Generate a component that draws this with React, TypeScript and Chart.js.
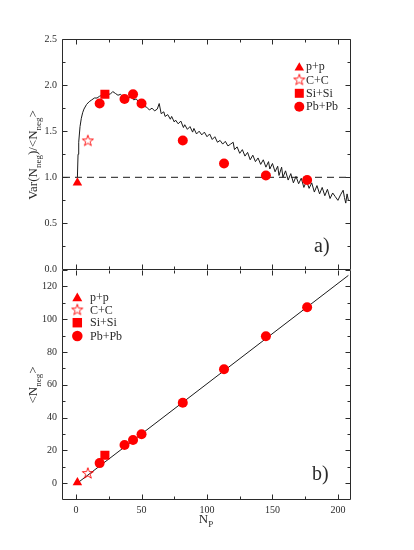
import React, { useEffect, useRef } from 'react';
import { Chart, registerables } from 'chart.js';

Chart.register(...registerables);

const SERIF = '"Liberation Serif", "DejaVu Serif", serif';
const RED = '#ff0000';
const INK = '#2b2b2b';

// ---------- axis ticks ----------
const xMajorTicks = [0, 50, 100, 150, 200];
const xMinorTicks = [25, 75, 125, 175];
const ratioMajorTicks = [0, 0.5, 1.0, 1.5, 2.0, 2.5];
const ratioMinorTicks = [0.25, 0.75, 1.25, 1.75, 2.25];
const meanMajorTicks = [0, 20, 40, 60, 80, 100, 120];
const meanMinorTicks = [10, 30, 50, 70, 90, 110];

// ---------- legend ----------
const legendLabels = ['p+p', 'C+C', 'Si+Si', 'Pb+Pb'];

// ---------- panel a): Var(N_neg)/<N_neg> ----------
const curveNp = [
  1, 1.5, 2, 3, 4, 5, 6, 8, 10, 12, 14, 16, 18, 20, 22, 24, 26, 28, 30, 32,
  34, 36, 38, 40, 42, 44, 46, 48, 50, 52, 54, 56, 58, 60, 62, 63.5, 65, 67, 68, 70,
  72, 73, 75, 76, 78, 80, 82, 83, 85, 87, 89, 90, 92, 94, 96, 98, 100, 102, 104, 106,
  108, 110, 112, 114, 116, 118, 120, 121, 123, 125, 127, 129, 131, 133, 135, 137, 139, 141, 143, 145,
  147, 148, 150, 152, 154, 155, 157, 158, 160, 162, 164, 166, 168, 170, 172, 174, 176, 178, 180, 182,
  184, 186, 188, 190, 192, 194, 196, 198, 200, 202, 204, 205, 206, 207, 208,
];
const curveRatio = [
  1.00, 1.25, 1.38, 1.55, 1.64, 1.70, 1.74, 1.79, 1.82, 1.84, 1.86, 1.86, 1.88, 1.89, 1.88, 1.91, 1.90, 1.93, 1.91, 1.89,
  1.90, 1.87, 1.88, 1.86, 1.87, 1.84, 1.85, 1.81, 1.82, 1.77, 1.76, 1.73, 1.75, 1.72, 1.74, 1.80, 1.69, 1.71, 1.66, 1.68,
  1.63, 1.66, 1.60, 1.62, 1.58, 1.61, 1.54, 1.57, 1.52, 1.55, 1.49, 1.53, 1.47, 1.50, 1.46, 1.49, 1.44, 1.47, 1.41, 1.44,
  1.38, 1.40, 1.36, 1.39, 1.34, 1.36, 1.38, 1.30, 1.33, 1.26, 1.30, 1.23, 1.27, 1.19, 1.24, 1.17, 1.21, 1.14, 1.19, 1.11,
  1.17, 1.09, 1.15, 1.06, 1.12, 1.02, 1.11, 1.00, 1.07, 0.97, 1.04, 0.94, 1.01, 0.93, 0.99, 0.89, 0.96, 0.88, 0.94, 0.84,
  0.91, 0.82, 0.89, 0.80, 0.87, 0.77, 0.83, 0.79, 0.75, 0.81, 0.86, 0.78, 0.72, 0.82, 0.75,
];
const refLineNp = [-10, 210];
const refLineRatio = [1, 1];

const ppNp = [1];
const ccNp = [9];
const siNp = [22];
const pbNp = [18, 37, 43.5, 50, 81.5, 113, 145, 176.5];

const ppRatio = [0.94];
const ccRatio = [1.40];
const siRatio = [1.90];
const pbRatio = [1.80, 1.85, 1.90, 1.80, 1.40, 1.15, 1.02, 0.97];

// ---------- panel b): <N_neg> ----------
const fitNp = [1, 208];
const fitMean = [0, 126.7];
const ppMean = [0.4];
const ccMean = [6.2];
const siMean = [17];
const pbMean = [12.2, 23.3, 26.3, 29.8, 49, 69.5, 89.6, 107.3];

type Seg = { t: string; sub?: boolean };

const pts = (xs: number[], ys: number[]) => xs.map((x, i) => ({ x, y: ys[i] }));

function starPath(g: CanvasRenderingContext2D, cx: number, cy: number, R: number, r: number) {
  g.beginPath();
  for (let i = 0; i < 10; i++) {
    const rad = (Math.PI / 5) * i;
    const rr = i % 2 === 0 ? R : r;
    const x = cx + Math.sin(rad) * rr;
    const y = cy - Math.cos(rad) * rr;
    if (i === 0) g.moveTo(x, y);
    else g.lineTo(x, y);
  }
  g.closePath();
}

function makeStar(color: string): HTMLCanvasElement {
  const c = document.createElement('canvas');
  c.width = 14;
  c.height = 14;
  const g = c.getContext('2d')!;
  starPath(g, 7, 7.5, 5.8, 2.3);
  g.strokeStyle = color;
  g.lineWidth = 0.9;
  g.stroke();
  return c;
}

function drawMarker(ctx: CanvasRenderingContext2D, kind: number, x: number, y: number, s: number, star: HTMLCanvasElement) {
  ctx.save();
  ctx.fillStyle = RED;
  ctx.strokeStyle = RED;
  if (kind === 0) {
    const r = 5.5 * s;
    ctx.beginPath();
    for (let i = 0; i < 3; i++) {
      const rad = (2 * Math.PI / 3) * i;
      const px = x + Math.sin(rad) * r;
      const py = y + 1 - Math.cos(rad) * r;
      if (i === 0) ctx.moveTo(px, py);
      else ctx.lineTo(px, py);
    }
    ctx.closePath();
    ctx.fill();
  } else if (kind === 1) {
    ctx.drawImage(star, x - 7, y - 7.5);
  } else if (kind === 2) {
    const h = 4.5 * s;
    ctx.fillRect(x - h, y - h, 2 * h, 2 * h);
  } else {
    ctx.beginPath();
    ctx.arc(x, y, 5 * s, 0, Math.PI * 2);
    ctx.fill();
  }
  ctx.restore();
}

function drawRich(ctx: CanvasRenderingContext2D, segs: Seg[], cx: number, cy: number, rot: boolean, size: number, subSize: number) {
  ctx.save();
  ctx.translate(cx, cy);
  if (rot) ctx.rotate(-Math.PI / 2);
  let total = 0;
  const widths = segs.map((s) => {
    ctx.font = `${s.sub ? subSize : size}px ${SERIF}`;
    const w = ctx.measureText(s.t).width;
    total += w;
    return w;
  });
  let x = -total / 2;
  ctx.textAlign = 'left';
  ctx.textBaseline = 'alphabetic';
  ctx.fillStyle = INK;
  const base = size * 0.33;
  segs.forEach((s, i) => {
    ctx.font = `${s.sub ? subSize : size}px ${SERIF}`;
    ctx.fillText(s.t, x, base + (s.sub ? size * 0.3 : 0));
    x += widths[i];
  });
  ctx.restore();
}

type PanelOpts = {
  id: string;
  yMajor: number[];
  yMinor: number[];
  drawTopBorder: boolean;
  yTitle: Seg[];
  yTitleY: number;
  legendX: number;
  legendY: number[];
  legendTextX: number;
  legendScale: number;
  legendFont: number;
  tag: string;
  tagX: number;
  tagY: number;
  xTitleY?: number;
  star: HTMLCanvasElement;
};

function panelPlugin(o: PanelOpts) {
  return {
    id: o.id,
    afterDraw(chart: any) {
      const { ctx, chartArea: a, scales } = chart;
      const xs = scales.x;
      const ys = scales.y;
      const L = Math.round(a.left) - 0.5;
      const R = Math.round(a.right) - 0.5;
      const T = Math.round(a.top) + 0.5;
      const B = Math.round(a.bottom) - 0.5;
      ctx.save();
      ctx.strokeStyle = INK;
      ctx.lineWidth = 1;
      ctx.beginPath();
      ctx.moveTo(L, B); ctx.lineTo(R, B);
      ctx.moveTo(L, T); ctx.lineTo(L, B);
      ctx.moveTo(R, T); ctx.lineTo(R, B);
      if (o.drawTopBorder) { ctx.moveTo(L, T); ctx.lineTo(R, T); }
      const xt = (vals: number[], len: number) => {
        vals.forEach((v) => {
          const p = Math.round(xs.getPixelForValue(v)) + 0.5;
          ctx.moveTo(p, B); ctx.lineTo(p, B - len);
          ctx.moveTo(p, T); ctx.lineTo(p, T + len);
        });
      };
      const yt = (vals: number[], len: number) => {
        vals.forEach((v) => {
          const p = Math.round(ys.getPixelForValue(v)) + 0.5;
          ctx.moveTo(L, p); ctx.lineTo(L + len, p);
          ctx.moveTo(R, p); ctx.lineTo(R - len, p);
        });
      };
      xt(xMajorTicks, 5);
      xt(xMinorTicks, 3);
      yt(o.yMajor, 5);
      yt(o.yMinor, 3);
      ctx.stroke();
      ctx.restore();

      drawRich(ctx, o.yTitle, 33, o.yTitleY, true, 13, 9);

      legendLabels.forEach((lab, i) => {
        drawMarker(ctx, i, o.legendX, o.legendY[i], o.legendScale, o.star);
        ctx.save();
        ctx.font = `${o.legendFont}px ${SERIF}`;
        ctx.fillStyle = INK;
        ctx.textAlign = 'left';
        ctx.textBaseline = 'middle';
        ctx.fillText(lab, o.legendTextX, o.legendY[i] + 0.5);
        ctx.restore();
      });

      ctx.save();
      ctx.font = `20px ${SERIF}`;
      ctx.fillStyle = INK;
      ctx.textAlign = 'left';
      ctx.textBaseline = 'middle';
      ctx.fillText(o.tag, o.tagX, o.tagY);
      ctx.restore();

      if (o.xTitleY !== undefined) {
        drawRich(ctx, [{ t: 'N' }, { t: 'P', sub: true }], 206, o.xTitleY, false, 13, 9);
      }
    },
  };
}

function markerSets(xsArr: number[][], ysArr: number[][], star: HTMLCanvasElement) {
  const styles: any[] = [
    { pointStyle: 'triangle', pointRadius: 5.5 },
    { pointStyle: star, pointRadius: 7 },
    { pointStyle: 'rect', pointRadius: 6.4 },
    { pointStyle: 'circle', pointRadius: 5 },
  ];
  return styles.map((st, i) => ({
    label: legendLabels[i],
    data: pts(xsArr[i], ysArr[i]),
    showLine: false,
    backgroundColor: RED,
    borderColor: RED,
    borderWidth: 0,
    ...st,
  }));
}

const tickFont = { family: SERIF, size: 10 };

export default function App() {
  const topRef = useRef<HTMLCanvasElement>(null);
  const botRef = useRef<HTMLCanvasElement>(null);

  useEffect(() => {
    const star = makeStar(RED);
    const common: any = {
      responsive: false,
      animation: false,
      devicePixelRatio: 1,
      events: [],
      plugins: { legend: { display: false }, tooltip: { enabled: false } },
    };

    const top = new Chart(topRef.current!, {
      type: 'scatter',
      data: {
        datasets: [
          ...markerSets([ppNp, ccNp, siNp, pbNp], [ppRatio, ccRatio, siRatio, pbRatio], star),
          {
            label: 'simulation',
            data: pts(curveNp, curveRatio),
            showLine: true,
            borderColor: '#1a1a1a',
            borderWidth: 1,
            pointRadius: 0,
            tension: 0,
          },
          {
            label: 'poisson',
            data: pts(refLineNp, refLineRatio),
            showLine: true,
            borderColor: '#1a1a1a',
            borderWidth: 1,
            borderDash: [7, 5],
            pointRadius: 0,
          },
        ],
      } as any,
      options: {
        ...common,
        layout: { autoPadding: false, padding: { left: 0, right: 63, top: 39, bottom: 10.5 } },
        scales: {
          x: { type: 'linear', min: -10, max: 210, display: false },
          y: {
            type: 'linear',
            min: 0,
            max: 2.5,
            afterBuildTicks: (s: any) => { s.ticks = ratioMajorTicks.map((v) => ({ value: v })); },
            afterFit: (s: any) => { s.width = 63; s.paddingTop = 0; s.paddingBottom = 0; },
            grid: { display: false, drawTicks: false },
            border: { display: false },
            ticks: {
              callback: (v: any) => Number(v).toFixed(1),
              font: tickFont,
              color: INK,
              padding: 6,
            },
          },
        },
      },
      plugins: [
        panelPlugin({
          id: 'panelA',
          yMajor: ratioMajorTicks,
          yMinor: ratioMinorTicks,
          drawTopBorder: true,
          yTitle: [{ t: 'Var(N' }, { t: 'neg', sub: true }, { t: ')/<N' }, { t: 'neg', sub: true }, { t: '>' }],
          yTitleY: 155,
          legendX: 299.3,
          legendY: [66.7, 80, 93.3, 106.7],
          legendTextX: 306,
          legendScale: 1,
          legendFont: 12,
          tag: 'a)',
          tagX: 314,
          tagY: 247,
          star,
        }) as any,
      ],
    });

    const bot = new Chart(botRef.current!, {
      type: 'scatter',
      data: {
        datasets: [
          ...markerSets([ppNp, ccNp, siNp, pbNp], [ppMean, ccMean, siMean, pbMean], star),
          {
            label: 'linear fit',
            data: pts(fitNp, fitMean),
            showLine: true,
            borderColor: '#1a1a1a',
            borderWidth: 1,
            pointRadius: 0,
          },
        ],
      } as any,
      options: {
        ...common,
        layout: { autoPadding: false, padding: { left: 0, right: 63, top: 0, bottom: 0 } },
        scales: {
          x: {
            type: 'linear',
            min: -10,
            max: 210,
            afterBuildTicks: (s: any) => { s.ticks = xMajorTicks.map((v) => ({ value: v })); },
            afterFit: (s: any) => { s.height = 50.5; s.paddingLeft = 0; s.paddingRight = 0; },
            grid: { display: false, drawTicks: false },
            border: { display: false },
            ticks: { font: tickFont, color: INK, padding: 5, maxRotation: 0, autoSkip: false },
          },
          y: {
            type: 'linear',
            min: -10,
            max: 130,
            afterBuildTicks: (s: any) => { s.ticks = meanMajorTicks.map((v) => ({ value: v })); },
            afterFit: (s: any) => { s.width = 63; s.paddingTop = 0; s.paddingBottom = 0; },
            grid: { display: false, drawTicks: false },
            border: { display: false },
            ticks: { font: tickFont, color: INK, padding: 6 },
          },
        },
      },
      plugins: [
        panelPlugin({
          id: 'panelB',
          yMajor: meanMajorTicks,
          yMinor: meanMinorTicks,
          drawTopBorder: false,
          yTitle: [{ t: '<N' }, { t: 'neg', sub: true }, { t: '>' }],
          yTitleY: 115,
          legendX: 77.3,
          legendY: [27.3, 40, 52.7, 66],
          legendTextX: 90,
          legendScale: 1.05,
          legendFont: 12,
          tag: 'b)',
          tagX: 312,
          tagY: 205,
          xTitleY: 249,
          star,
        }) as any,
      ],
    });

    return () => {
      top.destroy();
      bot.destroy();
    };
  }, []);

  return (
    <div style={{ position: 'absolute', left: 0, top: 0, width: 414, height: 550, background: '#ffffff' }}>
      <canvas
        ref={topRef}
        width={414}
        height={280}
        style={{ position: 'absolute', left: 0, top: 0, width: 414, height: 280 }}
      />
      <canvas
        ref={botRef}
        width={414}
        height={280}
        style={{ position: 'absolute', left: 0, top: 270, width: 414, height: 280 }}
      />
    </div>
  );
}
